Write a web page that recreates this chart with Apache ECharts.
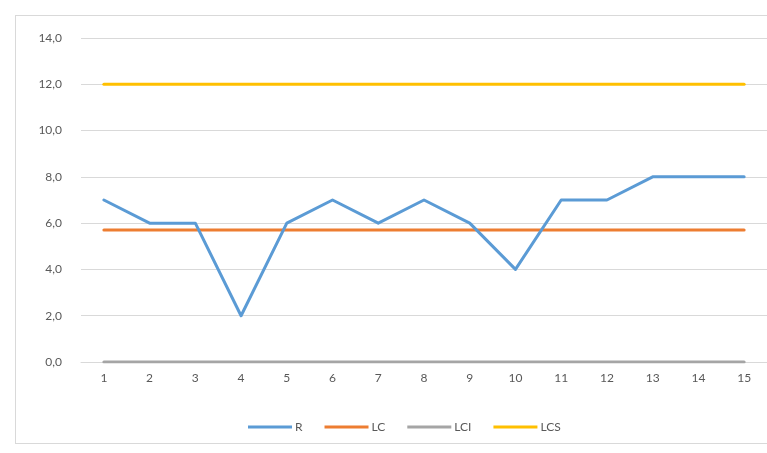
<!DOCTYPE html>
<html>
<head>
<meta charset="utf-8">
<script src="https://cdn.jsdelivr.net/npm/echarts@6/dist/echarts.min.js"></script>
<style>
  html, body { margin: 0; padding: 0; background: #fff; overflow: hidden; }
  #frame { position: absolute; left: 15px; top: 15px; width: 770px; height: 429px; border: 1px solid #d9d9d9; box-sizing: border-box; }
  #chart { position: absolute; left: 0; top: 0; width: 767px; height: 453px; }
</style>
</head>
<body>
<div id="frame"></div>
<div id="chart"></div>
<script>
// Control chart: range values with centre line and control limits
const samples = ['1','2','3','4','5','6','7','8','9','10','11','12','13','14','15'];
const rValues = [7, 6, 6, 2, 6, 7, 6, 7, 6, 4, 7, 7, 8, 8, 8];
const lcValues = [5.7, 5.7, 5.7, 5.7, 5.7, 5.7, 5.7, 5.7, 5.7, 5.7, 5.7, 5.7, 5.7, 5.7, 5.7];
const lciValues = [0, 0, 0, 0, 0, 0, 0, 0, 0, 0, 0, 0, 0, 0, 0];
const lcsValues = [12, 12, 12, 12, 12, 12, 12, 12, 12, 12, 12, 12, 12, 12, 12];

const textColor = '#595959';
const fontFamily = 'Lato, "Open Sans", sans-serif';

const chart = echarts.init(document.getElementById('chart'), null, { renderer: 'canvas' });

function lineSeries(name, data, color, width, z) {
  return {
    name, type: 'line', data, symbol: 'none', z,
    lineStyle: { color, width, cap: 'round', join: 'round' },
    itemStyle: { color },
    emphasis: { disabled: true }
  };
}

chart.setOption({
  animation: false,
  grid: { left: 81, right: -4, top: 38, bottom: 91 },
  legend: {
    top: 416,
    left: 243,
    itemWidth: 44,
    itemHeight: 3,
    itemGap: 22,
    icon: 'rect',
    textStyle: { color: textColor, fontFamily, fontSize: 12, padding: [0, 0, 0, -2] },
    data: ['R', 'LC', 'LCI', 'LCS']
  },
  xAxis: {
    type: 'category',
    data: samples,
    boundaryGap: true,
    axisLine: { lineStyle: { color: '#d9d9d9' } },
    axisTick: { show: false },
    axisLabel: { color: textColor, fontFamily, fontSize: 12, margin: 10 }
  },
  yAxis: {
    type: 'value',
    min: 0, max: 14, interval: 2,
    axisLine: { show: false },
    axisTick: { show: false },
    splitLine: { lineStyle: { color: '#d9d9d9', width: 1 } },
    axisLabel: {
      color: textColor, fontFamily, fontSize: 12, margin: 19,
      formatter: v => v.toFixed(1).replace('.', ',')
    }
  },
  series: [
    lineSeries('R', rValues, '#5b9bd5', 3, 5),
    lineSeries('LC', lcValues, '#ed7d31', 3, 4),
    lineSeries('LCI', lciValues, '#a5a5a5', 3, 3),
    lineSeries('LCS', lcsValues, '#ffc000', 3, 2)
  ]
});
</script>
</body>
</html>
